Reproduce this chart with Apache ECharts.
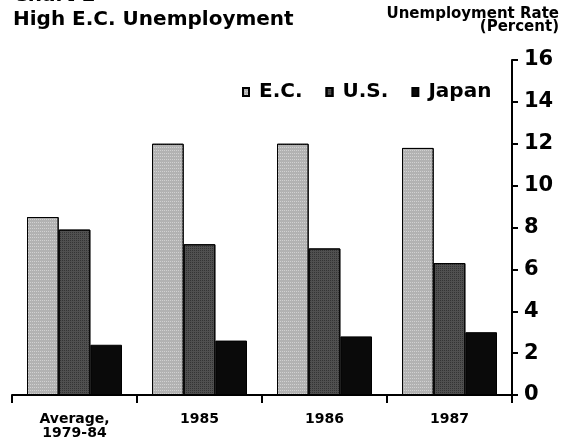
<!DOCTYPE html>
<html><head><meta charset="utf-8">
<script src="https://cdn.jsdelivr.net/npm/echarts@6/dist/echarts.min.js"></script>
<style>html,body{margin:0;padding:0;background:#fff}#c{width:568px;height:440px}</style>
</head><body><div id="c"></div>
<script>
var categories = ['Average,\n1979-84', '1985', '1986', '1987'];
var seriesNames = ['E.C.', 'U.S.', 'Japan'];
var ecValues = [8.5, 12.0, 12.0, 11.8];
var usValues = [7.9, 7.2, 7.0, 6.3];
var japanValues = [2.4, 2.6, 2.8, 3.0];
var yTicks = [0, 2, 4, 6, 8, 10, 12, 14, 16];

var chart = echarts.init(document.getElementById('c'));
var font = '"DejaVu Sans", "Liberation Sans", Arial, sans-serif';
var colors = ['#b2b2b2', '#505050', '#0a0a0a'];
var decals = [
  {symbol: 'rect', symbolSize: 1, dashArrayX: [1, 1], dashArrayY: [1, 2], color: 'rgba(255,255,255,0.4)'},
  {symbol: 'rect', symbolSize: 1, dashArrayX: [1, 1], dashArrayY: [1, 1], color: 'rgba(0,0,0,0.35)'},
  null
];
var dataSets = [ecValues, usValues, japanValues];
chart.setOption({
  animation: false,
  backgroundColor: '#fff',
  title: [
    {text: 'Chart 2', left: 8, top: -19, textStyle: {fontFamily: font, fontSize: 20, fontWeight: 'bold', color: '#000'}},
    {text: 'High E.C. Unemployment', left: 8, top: 5, textStyle: {fontFamily: font, fontSize: 20, fontWeight: 'bold', color: '#000'}},
    {text: 'Unemployment Rate', right: 4, top: 2, textStyle: {fontFamily: font, fontSize: 15, fontWeight: 'bold', color: '#000'}},
    {text: '(Percent)', right: 4, top: 15, textStyle: {fontFamily: font, fontSize: 15, fontWeight: 'bold', color: '#000'}}
  ],
  legend: {
    data: seriesNames, top: 77, left: 237, itemWidth: 6, itemHeight: 8, itemGap: 23,
    textStyle: {fontFamily: font, fontSize: 20, fontWeight: 'bold', color: '#000', padding: [0, 0, 0, 5]},
    icon: 'rect'
  },
  grid: {left: 12, right: 56, top: 60, bottom: 40},
  xAxis: {
    type: 'category', data: categories,
    axisLine: {lineStyle: {color: '#000', width: 2}},
    axisTick: {show: true, alignWithLabel: false, length: 8, lineStyle: {color: '#000', width: 2}},
    axisLabel: {fontFamily: font, fontSize: 14, fontWeight: 'bold', color: '#000', lineHeight: 14, margin: 17}
  },
  yAxis: {
    type: 'value', position: 'right', min: 0, max: 16, interval: 2,
    splitLine: {show: false},
    axisLine: {show: true, lineStyle: {color: '#000', width: 2}},
    axisTick: {show: true, inside: false, length: 6, lineStyle: {color: '#000', width: 2}},
    axisLabel: {fontFamily: font, fontSize: 21, fontWeight: 'bold', color: '#000', margin: 12,
      formatter: function (v) { return yTicks.indexOf(v) >= 0 ? String(v) : ''; }}
  },
  series: seriesNames.map(function (n, i) {
    var st = {color: colors[i], borderColor: '#000', borderWidth: 1};
    if (decals[i]) st.decal = decals[i];
    return {
      name: n, type: 'bar', data: dataSets[i],
      barGap: '0%', barCategoryGap: '24%',
      itemStyle: st
    };
  })
});
</script></body></html>
